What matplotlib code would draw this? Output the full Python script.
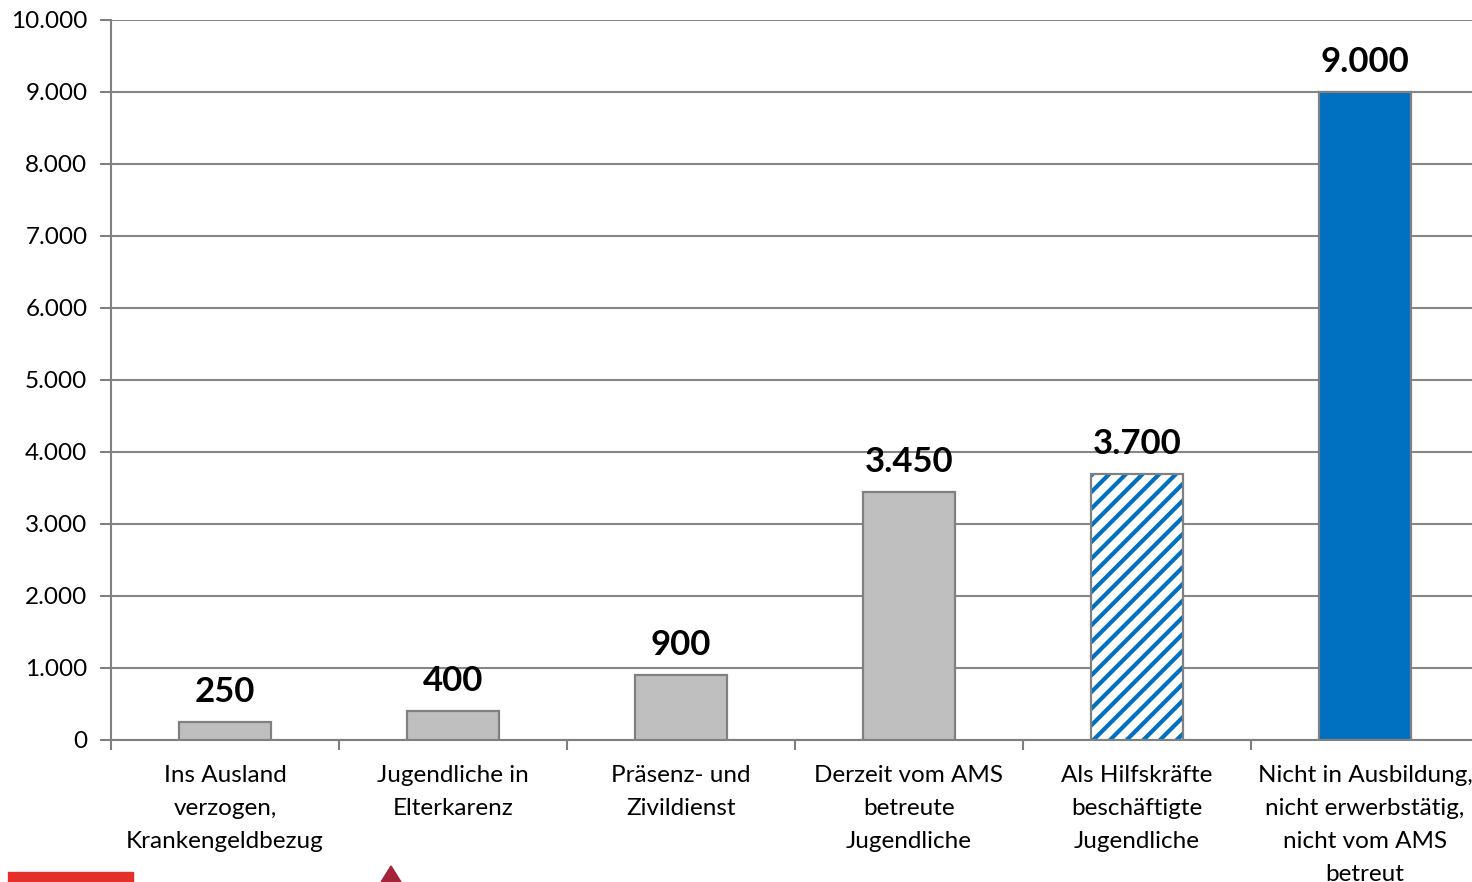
import matplotlib.pyplot as plt
from matplotlib.patches import Rectangle, Polygon
from matplotlib.ticker import FuncFormatter

plt.rcParams['font.family'] = ['Lato', 'DejaVu Sans']
plt.rcParams['hatch.linewidth'] = 3.0

categories = ['Ins Ausland\nverzogen,\nKrankengeldbezug',
              'Jugendliche in\nElterkarenz',
              'Präsenz- und\nZivildienst',
              'Derzeit vom AMS\nbetreute\nJugendliche',
              'Als Hilfskräfte\nbeschäftigte\nJugendliche',
              'Nicht in Ausbildung,\nnicht erwerbstätig,\nnicht vom AMS\nbetreut']
values = [250, 400, 900, 3450, 3700, 9000]
yticks = [0, 1000, 2000, 3000, 4000, 5000, 6000, 7000, 8000, 9000, 10000]

gray = '#bfbfbf'
blue = '#0070c0'
edge = '#808080'

def de_fmt(v, pos=None):
    return '{:,.0f}'.format(v).replace(',', '.')

fig = plt.figure(figsize=(14.72, 8.82), dpi=100)
# axes: x 111..1479 px, y 20..740 px
ax = fig.add_axes([111/1472, 1 - 740/882, 1368/1472, 720/882])

x = list(range(len(values)))
for i, v in enumerate(values):
    if i == 4:
        ax.bar(i, v, width=0.4, color='white', edgecolor=blue, hatch='//', linewidth=0, zorder=3)
        ax.bar(i, v, width=0.4, color='none', edgecolor=edge, linewidth=1.6, zorder=4)
    else:
        c = blue if i == 5 else gray
        ax.bar(i, v, width=0.4, color=c, edgecolor=edge, linewidth=1.6, zorder=3)
    ax.annotate(de_fmt(v), (i, v), xytext=(0, 10), textcoords='offset points',
                ha='center', va='bottom', fontsize=25, fontweight='bold', color='black')

ax.set_xlim(-0.5, len(values) - 0.5)
ax.set_ylim(0, 10000)
ax.set_yticks(yticks)
ax.yaxis.set_major_formatter(FuncFormatter(de_fmt))
ax.grid(axis='y', color='#868686', linewidth=1.5, zorder=0)
ax.set_axisbelow(True)

ax.set_xticks([i - 0.5 for i in range(len(values))])
ax.set_xticklabels([])
ax.set_xticks(x, minor=True)
ax.set_xticklabels(categories, minor=True, fontsize=17.5, linespacing=1.7, va='top')
ax.tick_params(axis='x', which='minor', length=0, pad=18)
ax.tick_params(axis='x', which='major', length=7, width=1.5, color=edge)
ax.tick_params(axis='y', length=8, width=1.5, color=edge, labelsize=17.5, pad=9)

for s in ['top', 'right']:
    ax.spines[s].set_visible(False)
for s in ['left', 'bottom']:
    ax.spines[s].set_color(edge)
    ax.spines[s].set_linewidth(1.5)

# decorations at the bottom edge
fig.patches.append(Rectangle((8/1472, 0), 125/1472, 10/882, transform=fig.transFigure,
                             color='#e3302a', zorder=5))
fig.patches.append(Polygon([(381/1472, 0), (391/1472, 16/882), (401/1472, 0)],
                           closed=True, transform=fig.transFigure, color='#a3243b', zorder=5))

fig.savefig('out.png', dpi=100)
